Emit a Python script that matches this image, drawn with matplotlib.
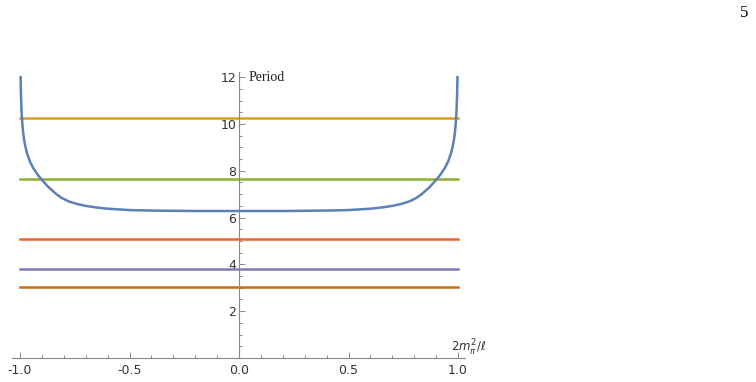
import matplotlib.pyplot as plt
import numpy as np
from matplotlib.ticker import MultipleLocator

plt.rcParams['mathtext.fontset'] = 'dejavusans'

# blue curve: period (right half, mirrored for the left)
x_half = [0.0, 0.2, 0.3, 0.4, 0.5, 0.55, 0.6, 0.65, 0.7, 0.74, 0.78,
          0.81, 0.834, 0.87, 0.903, 0.92, 0.94, 0.955, 0.968, 0.976,
          0.982, 0.986, 0.989, 0.992, 0.994, 0.996, 0.9975]
period_half = [6.28, 6.28, 6.29, 6.30, 6.32, 6.35, 6.38, 6.43, 6.50, 6.58, 6.70,
               6.84, 7.00, 7.30, 7.64, 7.84, 8.12, 8.40, 8.75, 9.05,
               9.36, 9.65, 9.95, 10.35, 10.75, 11.30, 12.0]

# horizontal lines
levels = [10.27, 7.64, 5.07, 3.80, 3.03]
level_colors = ['#E19C24', '#8FB032', '#EB6235', '#8778B3', '#C56E1A']

x_curve = [-v for v in x_half[::-1]] + x_half[1:]
y_curve = period_half[::-1] + period_half[1:]

fig = plt.figure(figsize=(7.56, 3.82), dpi=100)
ax = fig.add_axes([0.0155, 0.0628, 0.5996, 0.7487])

ax.plot(x_curve, y_curve, color='#5E81B5', lw=1.8, zorder=3,
        solid_joinstyle='round')
for lev, c in zip(levels, level_colors):
    ax.plot([-1, 1], [lev, lev], color=c, lw=1.8, zorder=2)

ax.set_xlim(-1.038, 1.032)
ax.set_ylim(0, 12.22)

for s in ['top', 'right']:
    ax.spines[s].set_visible(False)
ax.spines['left'].set_position(('data', 0))
ax.spines['bottom'].set_position(('data', 0))
for s in ['left', 'bottom']:
    ax.spines[s].set_color('#888888')
    ax.spines[s].set_linewidth(0.8)

ax.set_xticks([-1.0, -0.5, 0.0, 0.5, 1.0])
ax.set_xticklabels(['-1.0', '-0.5', '0.0', '0.5', '1.0'])
ax.xaxis.set_minor_locator(MultipleLocator(0.1))
ax.set_yticks([2, 4, 6, 8, 10, 12])
ax.yaxis.set_minor_locator(MultipleLocator(0.5))
ax.tick_params(which='both', direction='in', color='#888888', labelsize=9,
               labelcolor='#333333', width=0.7)
ax.tick_params(which='major', length=4)
ax.tick_params(which='minor', length=2.5)
ax.tick_params(axis='x', pad=4)
ax.tick_params(axis='y', pad=2)
ax.set_facecolor('none')

ax.text(0.045, 12.0, 'Period', fontsize=10, family='Liberation Serif',
        color='#222222', va='center', ha='left')
ax.text(0.97, 0.45, r'$2m_\pi^2/\ell$', fontsize=8.5, color='#333333',
        va='center', ha='left')

fig.text(744 / 756, 1 - 13 / 382, '5', fontsize=12, family='Liberation Serif',
         ha='center', va='center')

fig.savefig('out.png', dpi=100)
